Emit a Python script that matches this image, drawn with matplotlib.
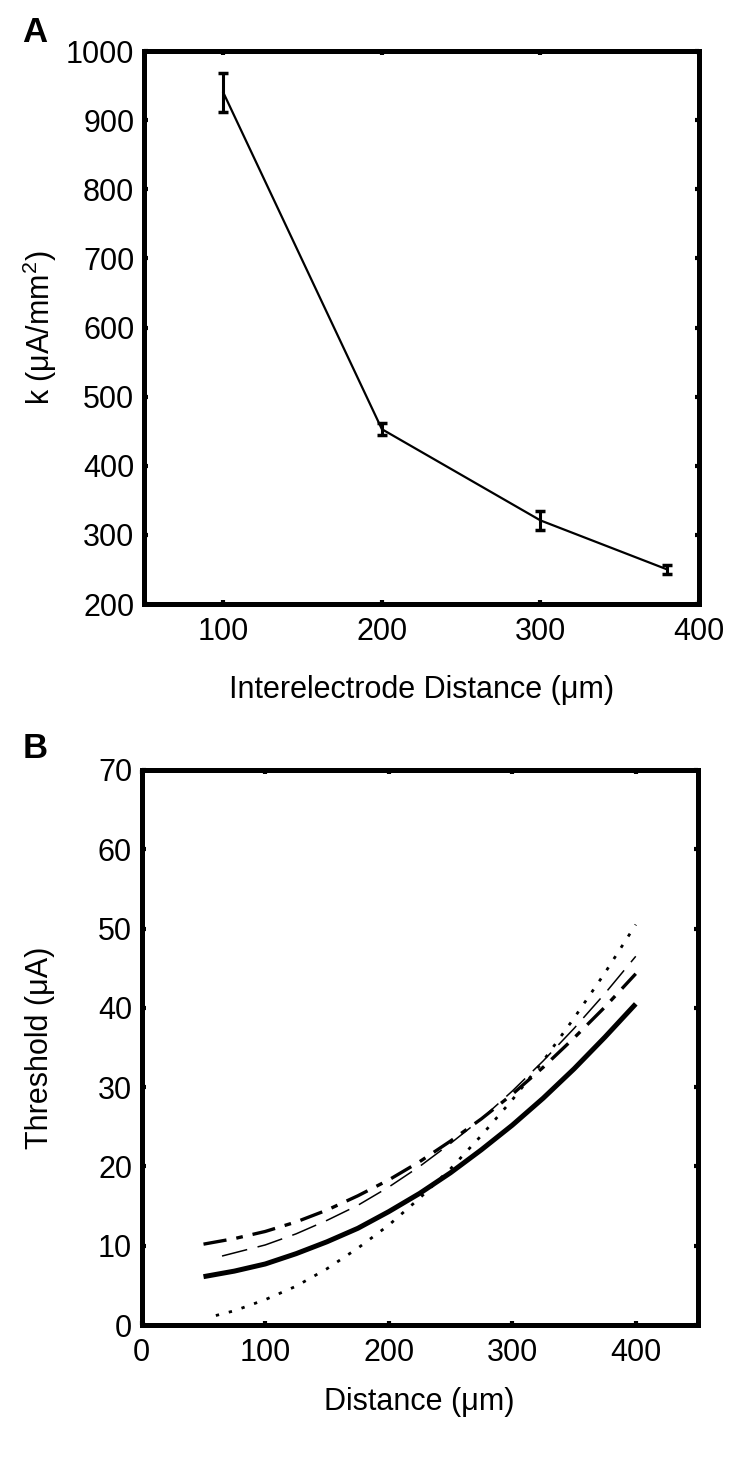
import matplotlib
matplotlib.use("Agg")
import matplotlib.pyplot as plt

# Panel A: k vs interelectrode distance
spacing_um = [100, 200, 300, 380]
k_vals = [940, 453, 321, 250]
k_err = [28, 9, 14, 6]

# Panel B: threshold curves vs distance
dist_solid = [50, 75, 100, 125, 150, 175, 200, 225, 250, 275, 300, 325, 350, 375, 400]
thr_solid = [6.1, 6.8, 7.7, 9.0, 10.5, 12.2, 14.3, 16.6, 19.2, 22.1, 25.2, 28.6, 32.3, 36.3, 40.5]

dist_dot = [60, 75, 100, 125, 150, 175, 200, 225, 250, 275, 300, 325, 350, 375, 400]
thr_dot = [1.2, 1.8, 3.2, 4.9, 7.1, 9.7, 12.6, 16.0, 19.7, 23.9, 28.4, 33.3, 38.7, 44.4, 50.5]

dist_dash = [65, 75, 100, 125, 150, 175, 200, 225, 250, 275, 300, 325, 350, 375, 400]
thr_dash = [8.7, 9.1, 10.1, 11.5, 13.2, 15.1, 17.4, 20.0, 22.9, 26.0, 29.5, 33.3, 37.4, 41.8, 46.5]

dist_dashdot = [50, 75, 100, 125, 150, 175, 200, 225, 250, 275, 300, 325, 350, 375, 400]
thr_dashdot = [10.2, 10.9, 11.8, 13.0, 14.5, 16.3, 18.3, 20.6, 23.2, 26.0, 29.1, 32.5, 36.2, 40.1, 44.3]

plt.rcParams['font.family'] = ['Liberation Sans', 'DejaVu Sans']
plt.rcParams['font.size'] = 22
plt.rcParams['mathtext.fontset'] = 'custom'
plt.rcParams['mathtext.rm'] = 'Liberation Sans'


def style_axes(ax):
    for s in ax.spines.values():
        s.set_linewidth(3.6)
    ax.tick_params(direction='in', length=3, width=3, top=True, right=True,
                   labelsize=22)
    ax.tick_params(axis='x', pad=9)
    ax.tick_params(axis='y', pad=7)


fig = plt.figure(figsize=(7.5, 14.58), dpi=100)

# --- panel A
axA = fig.add_axes([0.192, 0.5857, 0.74, 0.3793])
axA.errorbar(spacing_um, k_vals, yerr=k_err, color='black', linewidth=1.6,
             elinewidth=2.2, capsize=3.5, capthick=2.5)
axA.set_xlim(50, 400)
axA.set_ylim(200, 1000)
axA.set_xticks([100, 200, 300, 400])
axA.set_yticks(range(200, 1001, 100))
style_axes(axA)
axA.set_xlabel('Interelectrode Distance (μm)', fontsize=22)
axA.set_ylabel('k (μA/mm$^{2}$)', fontsize=22)
axA.xaxis.label.set_va('center')
axA.yaxis.label.set_va('center')
axA.xaxis.set_label_coords(0.5, -0.155)
axA.yaxis.set_label_coords(-0.187, 0.5)

# --- panel B
axB = fig.add_axes([0.189, 0.0912, 0.741, 0.3807])
axB.plot(dist_solid, thr_solid, color='black', linewidth=3.6,
         solid_capstyle='butt')
axB.plot(dist_dot, thr_dot, color='black', linewidth=2.0,
         linestyle=(0, (1.2, 3.6)))
axB.plot(dist_dash, thr_dash, color='black', linewidth=1.1,
         linestyle=(0, (17, 7)))
axB.plot(dist_dashdot, thr_dashdot, color='black', linewidth=2.4,
         linestyle=(0, (7, 3, 2, 3)))
axB.set_xlim(0, 450)
axB.set_ylim(0, 70)
axB.set_xticks([0, 100, 200, 300, 400])
axB.set_yticks(range(0, 71, 10))
style_axes(axB)
axB.set_xlabel('Distance (μm)', fontsize=22)
axB.set_ylabel('Threshold (μA)', fontsize=22)
axB.xaxis.label.set_va('center')
axB.yaxis.label.set_va('center')
axB.xaxis.set_label_coords(0.5, -0.139)
axB.yaxis.set_label_coords(-0.183, 0.5)

fig.text(35 / 750, 1 - 32 / 1458, 'A', fontsize=25, fontweight='bold',
         ha='center', va='center')
fig.text(35 / 750, 1 - 749 / 1458, 'B', fontsize=25, fontweight='bold',
         ha='center', va='center')

fig.savefig('out.png', dpi=100)
